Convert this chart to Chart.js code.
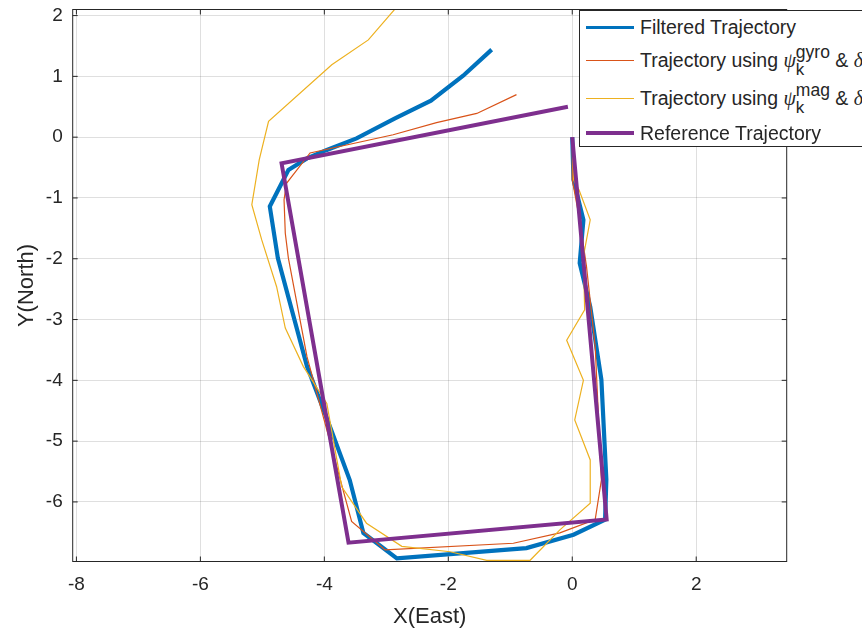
<!DOCTYPE html>
<html>
<head>
<meta charset="utf-8">
<script src="https://cdn.jsdelivr.net/npm/chart.js@4/dist/chart.umd.min.js"></script>
<style>
html,body{margin:0;padding:0;background:#fff;width:862px;height:633px;overflow:hidden;}
#wrap{position:relative;width:862px;height:633px;overflow:hidden;}
#c{position:absolute;left:0;top:0;}
#legend{position:absolute;left:579px;top:10px;width:430px;height:137px;border:1px solid #262626;background:#fff;box-sizing:border-box;
  font-family:"Liberation Sans",Arial,Helvetica,sans-serif;font-size:19.5px;color:#262626;}
.row{position:absolute;left:0;height:30px;width:420px;white-space:nowrap;}
.sw{position:absolute;left:6px;width:48px;}
.lbl{position:absolute;left:60px;top:0;line-height:30px;}
.sym{font-family:"Liberation Serif","DejaVu Serif",serif;font-style:italic;font-size:20px;}
.sb{position:relative;top:8px;font-size:17px;}
.sp{position:relative;top:-9px;font-size:17.5px;margin-left:-8.5px;}
</style>
</head>
<body>
<div id="wrap">
<canvas id="c" width="862" height="633"></canvas>
<div id="legend">
  <div class="row" style="top:1px"><div class="sw" style="top:13.5px;height:3.5px;background:#0072BD"></div><span class="lbl">Filtered Trajectory</span></div>
  <div class="row" style="top:34px"><div class="sw" style="top:14.5px;height:1.2px;background:#D95319"></div><span class="lbl">Trajectory using <span class="sym">ψ</span><span class="sb">k</span><span class="sp">gyro</span> &amp; <span class="sym">δ</span><span class="sb">k</span><span class="sp">gyro</span></span></div>
  <div class="row" style="top:72px"><div class="sw" style="top:14.5px;height:1.2px;background:#EDB120"></div><span class="lbl">Trajectory using <span class="sym">ψ</span><span class="sb">k</span><span class="sp">mag</span> &amp; <span class="sym">δ</span><span class="sb">k</span><span class="sp">mag</span></span></div>
  <div class="row" style="top:107px"><div class="sw" style="top:13px;height:4px;background:#7E2F8E"></div><span class="lbl">Reference Trajectory</span></div>
</div>
</div>
<script>
// ---- data ----
const xTicks = [-8, -6, -4, -2, 0, 2];
const yTicks = [-6, -5, -4, -3, -2, -1, 0, 1, 2];

const filteredX = [0, 0.02, 0.18, 0.12, 0.29, 0.47, 0.55, 0.53, 0.02, -0.74, -2.83, -3.37, -3.59, -3.91, -4.28, -4.75, -4.88, -4.58, -4.28, -3.96, -3.48, -2.86, -2.28, -1.76, -1.30];
const filteredY = [0, -0.70, -1.36, -2.07, -2.79, -3.99, -5.63, -6.29, -6.54, -6.76, -6.93, -6.51, -5.64, -4.76, -3.77, -1.99, -1.14, -0.54, -0.35, -0.21, -0.02, 0.31, 0.60, 1.01, 1.44];

const gyroX = [0, 0, 0.12, 0.23, 0.37, 0.47, 0.37, -0.20, -0.95, -3.02, -3.56, -4.28, -4.58, -4.63, -4.65, -4.61, -4.23, -2.89, -2.19, -1.54, -0.90];
const gyroY = [0, -0.70, -1.36, -2.13, -3.44, -5.64, -6.29, -6.51, -6.68, -6.79, -6.32, -3.61, -1.99, -1.58, -1.03, -0.76, -0.26, 0.04, 0.24, 0.39, 0.70];

const magX = [0, 0.02, 0.11, 0.29, 0.18, 0.20, -0.09, 0.18, 0.04, 0.29, 0.29, -0.20, -0.68, -1.38, -1.97, -2.75, -3.32, -3.72, -3.96, -4.34, -4.63, -4.77, -5.01, -5.17, -5.05, -4.90, -3.88, -3.29, -2.85];
const magY = [0, -0.70, -0.87, -1.36, -1.96, -2.84, -3.34, -4.00, -4.65, -5.31, -6.02, -6.46, -6.96, -6.96, -6.82, -6.73, -6.35, -5.75, -4.38, -3.77, -3.14, -2.46, -1.69, -1.11, -0.37, 0.26, 1.19, 1.60, 2.12];

const refX = [0, 0.555, -3.61, -4.69, -0.07];
const refY = [0, -6.29, -6.67, -0.43, 0.50];

const xRange = [-8.06, 3.46];
const yRange = [-6.98, 2.10];

function pts(xs, ys) { return xs.map((x, i) => ({ x: x, y: ys[i] })); }

const FONT = '"Liberation Sans", Arial, Helvetica, sans-serif';
const INK = '#262626';

const boxPlugin = {
  id: 'boxPlugin',
  afterDatasetsDraw(chart) {
    const { ctx, chartArea: a, scales } = chart;
    ctx.save();
    ctx.strokeStyle = INK;
    ctx.lineWidth = 1;
    ctx.strokeRect(a.left, a.top, a.right - a.left, a.bottom - a.top);
    const tl = 5;
    ctx.beginPath();
    scales.x.ticks.forEach(t => {
      const px = scales.x.getPixelForValue(t.value);
      ctx.moveTo(px, a.bottom); ctx.lineTo(px, a.bottom - tl);
      ctx.moveTo(px, a.top); ctx.lineTo(px, a.top + tl);
    });
    scales.y.ticks.forEach(t => {
      const py = scales.y.getPixelForValue(t.value);
      ctx.moveTo(a.left, py); ctx.lineTo(a.left + tl, py);
      ctx.moveTo(a.right, py); ctx.lineTo(a.right - tl, py);
    });
    ctx.stroke();
    ctx.restore();
  }
};

const common = { showLine: true, pointRadius: 0, pointHoverRadius: 0, tension: 0, clip: 0, fill: false };

new Chart(document.getElementById('c'), {
  type: 'scatter',
  data: {
    datasets: [
      Object.assign({ label: 'Reference Trajectory', data: pts(refX, refY), borderColor: '#7E2F8E', borderWidth: 4, order: 0 }, common),
      Object.assign({ label: 'Trajectory using mag', data: pts(magX, magY), borderColor: '#EDB120', borderWidth: 1.2, order: 1 }, common),
      Object.assign({ label: 'Trajectory using gyro', data: pts(gyroX, gyroY), borderColor: '#D95319', borderWidth: 1.2, order: 2 }, common),
      Object.assign({ label: 'Filtered Trajectory', data: pts(filteredX, filteredY), borderColor: '#0072BD', borderWidth: 4.2, order: 3 }, common)
    ]
  },
  options: {
    responsive: false,
    animation: false,
    devicePixelRatio: 1,
    layout: { padding: { top: 9.5, right: 75.3, left: 0, bottom: 0 } },
    plugins: { legend: { display: false }, tooltip: { enabled: false } },
    events: [],
    scales: {
      x: {
        type: 'linear', min: xRange[0], max: xRange[1],
        afterBuildTicks: s => { s.ticks = xTicks.map(v => ({ value: v })); },
        afterFit: s => { s.height = 71.5; s.paddingLeft = 0; s.paddingRight = 0; },
        grid: { color: 'rgba(38,38,38,0.15)', lineWidth: 1, drawTicks: false },
        border: { display: false },
        ticks: { color: INK, font: { family: FONT, size: 19 }, padding: 12, maxRotation: 0, callback: v => String(v) },
        title: { display: true, text: 'X(East)', color: INK, font: { family: FONT, size: 22 }, padding: { top: 0, bottom: 3 } }
      },
      y: {
        type: 'linear', min: yRange[0], max: yRange[1],
        afterBuildTicks: s => { s.ticks = yTicks.map(v => ({ value: v })); },
        afterFit: s => { s.width = 72.7; s.paddingTop = 0; s.paddingBottom = 0; },
        grid: { color: 'rgba(38,38,38,0.15)', lineWidth: 1, drawTicks: false },
        border: { display: false },
        ticks: { color: INK, font: { family: FONT, size: 19 }, padding: 10, callback: v => String(v) },
        title: { display: true, text: 'Y(North)', color: INK, font: { family: FONT, size: 22 }, padding: { top: 14, bottom: 0 } }
      }
    }
  },
  plugins: [boxPlugin]
});
</script>
</body>
</html>
